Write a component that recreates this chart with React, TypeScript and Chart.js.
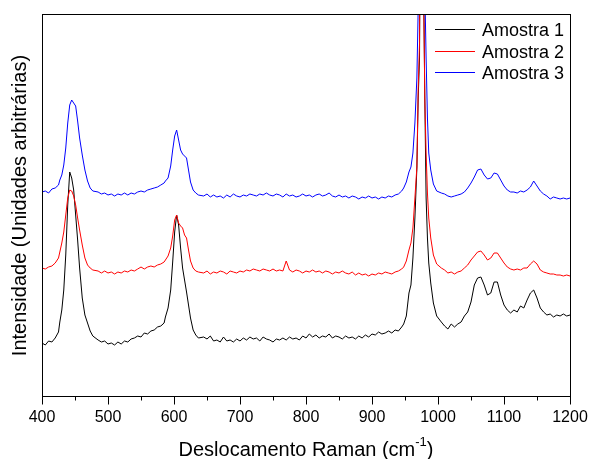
import React, { useEffect, useRef } from "react";
import { Chart, registerables } from "chart.js";

Chart.register(...registerables);

// Raman shift (cm-1)
const ramanShift = [
  400, 405, 410, 415, 420, 425,
  427, 430, 433, 436, 439, 442, 445, 448, 451, 454, 457, 461, 465, 469, 473, 477,
  485, 490, 495, 500, 505, 510, 515, 520, 525, 530, 535, 540, 545, 550, 555, 560, 565, 570, 575, 580, 585,
  587, 591, 595, 598, 601, 604, 607, 610, 613, 616, 619, 622, 625, 629, 633, 637,
  645, 650, 655, 660, 665, 670, 675, 680, 685, 690,
  695, 700, 705, 710, 715, 720, 725, 730, 735, 740,
  745, 750, 755, 760, 765, 770, 775, 780, 785, 790,
  795, 800, 805, 810, 815, 820, 825, 830, 835, 840,
  845, 850, 855, 860, 865, 870, 875, 880, 885, 890,
  895, 900, 905, 910, 915, 920, 925, 930, 935, 940,
  945,
  948, 952, 956, 959, 962, 965, 968, 970, 972, 974, 976, 978, 980, 982, 984, 986, 989, 993, 998,
  1005, 1010, 1015, 1020, 1025, 1030, 1035, 1040, 1045, 1050,
  1055, 1060, 1065, 1070, 1075, 1080, 1085, 1090, 1095, 1100,
  1105, 1110, 1115, 1120, 1125, 1130, 1135, 1140, 1145, 1150,
  1155, 1160, 1165, 1170, 1175, 1180, 1185, 1190, 1195, 1200,
];

const amostra1 = [
  55, 53, 57, 56, 60, 66,
  76, 88, 108, 143, 193, 226, 220, 208, 183, 158, 130, 100, 83, 75, 67, 62,
  58, 56, 57, 54, 55, 53, 56, 54, 57, 56, 59, 60, 62, 61, 65, 64, 67, 68, 71, 72, 75,
  81, 90, 108, 136, 166, 183, 173, 150, 130, 118, 106, 93, 80, 68, 63, 60,
  61, 59, 62, 57, 58, 56, 61, 57, 58, 56,
  59, 57, 60, 58, 61, 59, 60, 57, 61, 59,
  58, 56, 59, 58, 60, 58, 61, 59, 60, 58,
  62, 60, 64, 61, 63, 60, 62, 61, 64, 60,
  62, 61, 59, 62, 60, 61, 59, 62, 60, 63,
  61, 64, 63, 66, 64, 65, 67, 65, 68, 67,
  71,
  74, 82, 105, 113, 140, 180, 230, 300, 340, 600, 900, 430, 300, 200, 160, 135, 115, 95, 82,
  76, 72, 69, 74, 71, 74, 76, 82, 86, 96,
  113, 120, 121, 113, 103, 105, 116, 116, 103, 93,
  88, 85, 88, 86, 92, 90, 98, 105, 108, 100,
  90, 86, 83, 84, 81, 83, 82, 84, 82, 83,
];

const amostra2 = [
  130, 129, 131, 132, 135, 140,
  146, 155, 166, 183, 200, 208, 207, 202, 193, 180, 168, 153, 140, 133, 130, 128,
  127, 125, 127, 125, 126, 124, 126, 125, 127, 126, 128, 127, 129, 131, 129, 131, 132, 131, 133, 134, 136,
  138, 142, 150, 162, 178, 183, 175, 172, 170, 163, 160, 148, 137, 130, 127, 126,
  125, 127, 124, 126, 125, 127, 126, 124, 127, 126,
  125, 127, 126, 128, 127, 129, 128, 127, 129, 128,
  127, 129, 127, 128, 127, 137, 128, 126, 128, 127,
  125, 127, 126, 128, 126, 127, 125, 127, 126, 124,
  126, 125, 127, 125, 124, 126, 123, 125, 123, 124,
  122, 124, 123, 125, 124, 126, 125, 124, 126, 127,
  129,
  131, 137, 148, 155, 170, 200, 231, 310, 355, 600, 900, 420, 300, 245, 205, 180, 160, 143, 134,
  130, 128, 125, 126, 124, 126, 127, 130, 133, 138,
  142, 146, 147, 143, 138, 140, 145, 145, 140, 135,
  131, 129, 128, 129, 128, 130, 130, 134, 137, 134,
  128, 126, 125, 124, 124, 123, 123, 122, 123, 122,
];

const amostra3 = [
  206, 207, 205, 209, 210, 213,
  218, 223, 233, 250, 275, 293, 298, 295, 292, 277, 260, 243, 228, 217, 210, 207,
  206, 204, 205, 203, 204, 202, 204, 203, 205, 203, 205, 204, 206, 207, 206, 208, 209, 210, 211, 213, 215,
  217, 220, 232, 248, 262, 268, 258, 248, 244, 242, 240, 228, 216, 208, 205, 203,
  202, 204, 201, 203, 201, 202, 200, 203, 201, 204,
  202, 201, 203, 202, 204, 203, 202, 204, 203, 205,
  203, 202, 204, 203, 201, 204, 202, 203, 201, 202,
  204, 202, 203, 201, 203, 204, 202, 203, 205, 202,
  201, 203, 201, 202, 200, 202, 201, 199, 201, 200,
  202, 200, 201, 199, 201, 200, 202, 201, 203, 204,
  207,
  210, 216, 226, 231, 245, 275, 320, 390, 500, 800, 900, 800, 410, 340, 280, 245, 228, 214, 207,
  205, 204, 202, 201, 202, 203, 204, 206, 210, 215,
  221, 228, 229, 223, 219, 220, 225, 224, 218, 212,
  208, 206, 206, 205, 207, 206, 208, 211, 217, 212,
  207, 204, 202, 199, 201, 200, 199, 200, 199, 200,
];

const seriesNames = ["Amostra 1", "Amostra 2", "Amostra 3"];
const seriesColors = ["#000000", "#ff0000", "#0000ff"];
const xTickValues = [400, 500, 600, 700, 800, 900, 1000, 1100, 1200];
const xTickLabels = ["400", "500", "600", "700", "800", "900", "1000", "1100", "1200"];
const xMinorValues = [450, 550, 650, 750, 850, 950, 1050, 1150];
const xTitle = "Deslocamento Raman (cm";
const xTitleSup = "-1";
const xTitleEnd = ")";
const yTitle = "Intensidade (Unidades arbitrárias)";

const FONT = '"Liberation Sans", Arial, Helvetica, sans-serif';

const decorPlugin = {
  id: "decor",
  afterDraw(chart: any) {
    const ctx = chart.ctx as CanvasRenderingContext2D;
    const a = chart.chartArea;
    const xs = chart.scales.x;
    ctx.save();
    ctx.strokeStyle = "#000";
    ctx.lineWidth = 1;
    // frame
    ctx.strokeRect(Math.round(a.left) + 0.5, Math.round(a.top) + 0.5, Math.round(a.right - a.left), Math.round(a.bottom - a.top) - 1);
    const by = Math.round(a.bottom) - 0.5;
    // ticks
    ctx.beginPath();
    xTickValues.forEach((v) => {
      const px = Math.round(xs.getPixelForValue(v)) + 0.5;
      ctx.moveTo(px, by);
      ctx.lineTo(px, by + 8);
    });
    xMinorValues.forEach((v) => {
      const px = Math.round(xs.getPixelForValue(v)) + 0.5;
      ctx.moveTo(px, by);
      ctx.lineTo(px, by + 4);
    });
    ctx.stroke();
    // tick labels
    ctx.fillStyle = "#000";
    ctx.font = `16px ${FONT}`;
    ctx.textAlign = "center";
    ctx.textBaseline = "alphabetic";
    xTickValues.forEach((v, i) => {
      ctx.fillText(xTickLabels[i], xs.getPixelForValue(v), 421.5);
    });
    // x title with superscript
    ctx.font = `20px ${FONT}`;
    const w1 = ctx.measureText(xTitle).width;
    const w3 = ctx.measureText(xTitleEnd).width;
    ctx.font = `13px ${FONT}`;
    const w2 = ctx.measureText(xTitleSup).width;
    const cx = (a.left + a.right) / 2;
    let sx = cx - (w1 + w2 + w3) / 2;
    const tb = 455.5;
    ctx.textAlign = "left";
    ctx.font = `20px ${FONT}`;
    ctx.fillText(xTitle, sx, tb);
    sx += w1;
    ctx.font = `13px ${FONT}`;
    ctx.fillText(xTitleSup, sx, tb - 10);
    sx += w2;
    ctx.font = `20px ${FONT}`;
    ctx.fillText(xTitleEnd, sx, tb);
    // y title
    ctx.save();
    ctx.translate(26, (a.top + a.bottom) / 2);
    ctx.rotate(-Math.PI / 2);
    ctx.textAlign = "center";
    ctx.font = `20px ${FONT}`;
    ctx.fillText(yTitle, 0, 0);
    ctx.restore();
    // legend
    ctx.font = `18px ${FONT}`;
    ctx.textAlign = "left";
    seriesNames.forEach((name, i) => {
      const ly = Math.round(29 + i * 21.7) + 0.5;
      ctx.strokeStyle = seriesColors[i];
      ctx.beginPath();
      ctx.moveTo(435, ly);
      ctx.lineTo(475, ly);
      ctx.stroke();
      ctx.fillStyle = "#000";
      ctx.fillText(name, 482, ly + 6.5);
    });
    ctx.restore();
  },
};

export default function App() {
  const ref = useRef<HTMLCanvasElement | null>(null);
  useEffect(() => {
    if (!ref.current) return;
    const series = [amostra1, amostra2, amostra3];
    const chart = new Chart(ref.current, {
      type: "line",
      data: {
        datasets: series.map((vals, i) => ({
          label: seriesNames[i],
          data: ramanShift.map((x, j) => ({ x, y: vals[j] })),
          borderColor: seriesColors[i],
          backgroundColor: seriesColors[i],
          borderWidth: 1,
          pointRadius: 0,
          tension: 0,
          fill: false,
          order: 3 - i,
        })),
      },
      options: {
        animation: false,
        responsive: false,
        events: [],
        layout: { padding: { left: 42, right: 20, top: 14, bottom: 62 } },
        scales: {
          x: { type: "linear", min: 400, max: 1200, display: false },
          y: { type: "linear", min: 1, max: 384, display: false },
        },
        plugins: { legend: { display: false }, tooltip: { enabled: false } },
      },
      plugins: [decorPlugin],
    });
    return () => chart.destroy();
  }, []);
  return (
    <div style={{ position: "fixed", left: 0, top: 0, width: 590, height: 459, background: "#fff" }}>
      <canvas ref={ref} width={590} height={459} style={{ display: "block" }} />
    </div>
  );
}
